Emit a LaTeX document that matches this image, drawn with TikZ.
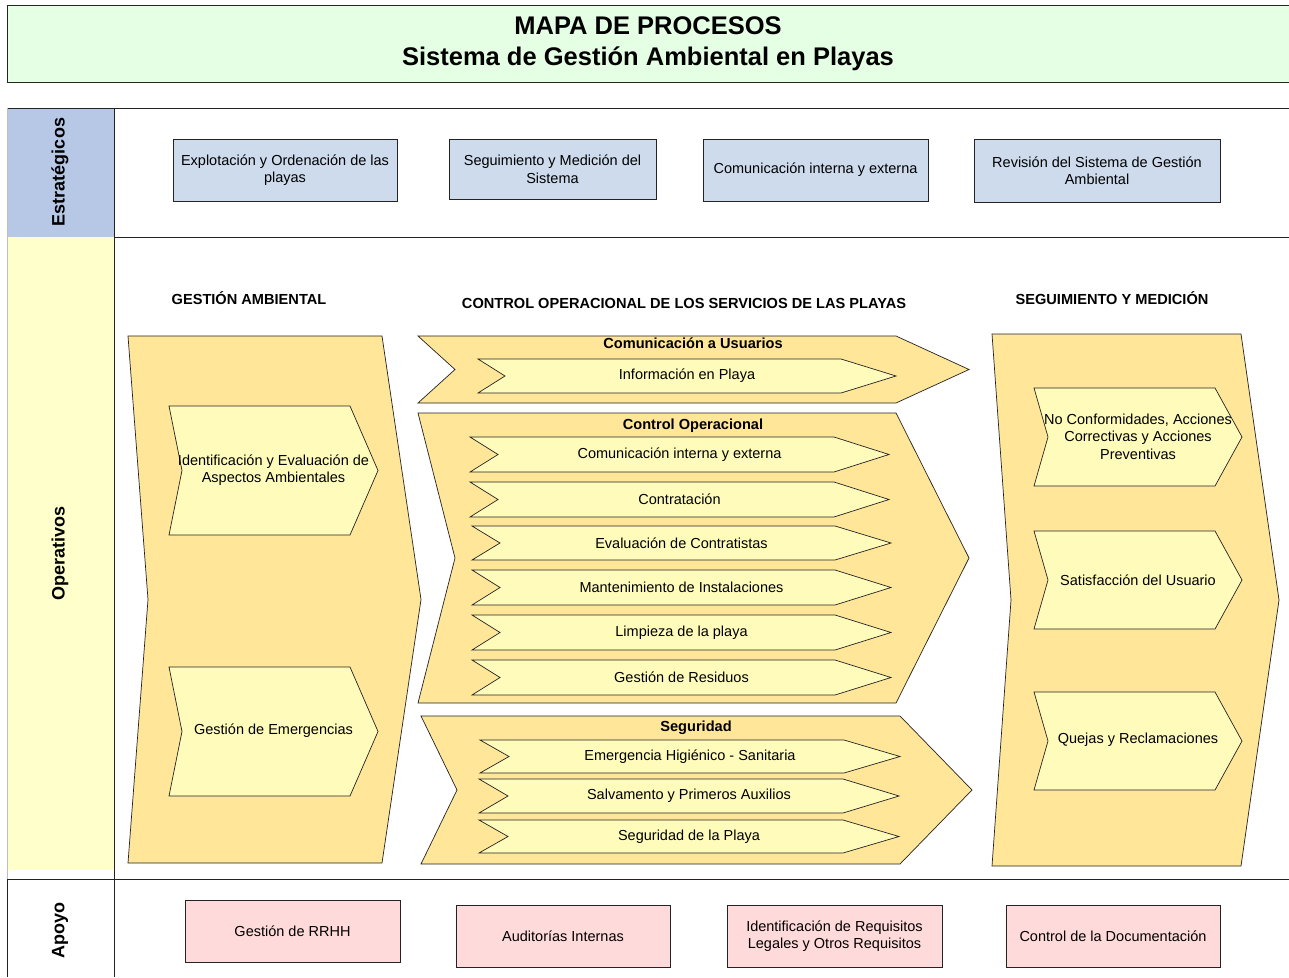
\documentclass[tikz,border=0pt]{standalone}
\usepackage{fontspec}
\setmainfont{Liberation Sans}
\definecolor{titlegreen}{RGB}{229,255,229}
\definecolor{stratlabel}{RGB}{183,199,230}
\definecolor{stratbox}{RGB}{205,219,237}
\definecolor{operlabel}{RGB}{255,255,204}
\definecolor{goldfill}{RGB}{255,230,153}
\definecolor{paleyellow}{RGB}{255,252,187}
\definecolor{pinkfill}{RGB}{255,218,218}
\definecolor{edge}{RGB}{35,35,35}
% chevron: style, x1, y1, x2, y2, notch, tip
\newcommand\chevpath[7]{\path[#1] (#2,#3) -- ({#4-#7},#3) -- (#4,{(#3+#5)/2}) -- ({#4-#7},#5) -- (#2,#5) -- ({#2+#6},{(#3+#5)/2}) -- cycle;}
\tikzset{
  lanerule/.style={draw=edge, line width=0.9pt},
  bigshape/.style={draw=edge, fill=goldfill, line width=0.7pt},
  innershape/.style={draw=edge, fill=paleyellow, line width=0.7pt},
  txt/.style={font=\fontsize{14.5}{17.5}\selectfont, align=center, inner sep=0pt},
  boldtxt/.style={font=\bfseries\fontsize{14.6}{17}\selectfont, align=center, inner sep=0pt},
  lanelabel/.style={font=\bfseries\fontsize{18}{20}\selectfont, rotate=90, inner sep=0pt},
  stratnode/.style={draw=edge, fill=stratbox, line width=0.8pt, align=center, inner sep=0pt, font=\fontsize{14.5}{17.5}\selectfont},
  apoyonode/.style={draw=edge, fill=pinkfill, line width=0.8pt, align=center, inner sep=0pt, font=\fontsize{14.5}{17.5}\selectfont},
}
\begin{document}
\begin{tikzpicture}[x=1pt,y=-1pt]
\clip (0,0) rectangle (1289,977);
\fill[white] (0,0) rectangle (1289,977);
% title
\path[draw=edge, fill=titlegreen, line width=0.9pt] (7,5) rectangle (1300,82);
\node[font=\bfseries\fontsize{25.5}{31}\selectfont, align=center, inner sep=0pt] (title) at (648,43.5) {MAPA DE PROCESOS\\Sistema de Gestión Ambiental en Playas};
% lanes
\fill[stratlabel] (7,108) rectangle (114,237);
\fill[operlabel] (7,237) rectangle (114,870);
\draw[lanerule] (7,108) -- (1300,108);
\draw[lanerule] (114,237) -- (1300,237);
\draw[lanerule] (7,879) -- (1300,879);
\draw[lanerule] (114,108) -- (114,977);
\draw[draw=black!25, line width=0.9pt] (7,108) -- (7,879);
\draw[lanerule] (7,879) -- (7,977);
\node[lanelabel] (lest) at (60,172) {Estratégicos};
\node[lanelabel] (lope) at (60,553) {Operativos};
\node[lanelabel] (lapo) at (60,930) {Apoyo};
% strategic boxes
\node[stratnode, minimum width=224, minimum height=62] (s1) at (285,170) {Explotación y Ordenación de las\\playas};
\node[stratnode, minimum width=207, minimum height=60] (s2) at (552.5,169) {Seguimiento y Medición del\\Sistema};
\node[stratnode, minimum width=225, minimum height=62] (s3) at (815.5,170) {Comunicación interna y externa};
\node[stratnode, minimum width=246, minimum height=63] (s4) at (1097,170.5) {Revisión del Sistema de Gestión\\Ambiental};
% column headers
\node[boldtxt] (hga) at (249,298) {GESTIÓN AMBIENTAL};
\node[boldtxt] (hco) at (684,303) {CONTROL OPERACIONAL DE LOS SERVICIOS DE LAS PLAYAS};
\node[boldtxt] (hsm) at (1112,298) {SEGUIMIENTO Y MEDICIÓN};
% Gestion ambiental
\chevpath{bigshape}{128}{336}{421}{863}{20}{39}
\chevpath{innershape}{169}{406}{378}{535}{13}{28}
\node[txt] (iea) at (273.5,470) {Identificación y Evaluación de\\Aspectos Ambientales};
\chevpath{innershape}{169}{667}{378}{796}{13}{28}
\node[txt] (ge) at (273.5,731) {Gestión de Emergencias};
% Comunicacion a usuarios
\chevpath{bigshape}{418}{336}{969}{403}{37}{73}
\node[boldtxt] (tcu) at (693,343) {Comunicación a Usuarios};
\chevpath{innershape}{478}{359}{896}{393}{27}{55}
\node[txt] (ip) at (687,376) {Información en Playa};
% Control operacional
\chevpath{bigshape}{418}{413}{969}{703}{37}{73}
\node[boldtxt] (tco) at (693,426) {Control Operacional};
\chevpath{innershape}{470}{437}{889}{472}{28}{55}
\node[txt] (c1) at (679.5,454.5) {Comunicación interna y externa};
\chevpath{innershape}{470}{482}{889}{517}{28}{55}
\node[txt] (c2) at (679.5,499.5) {Contratación};
\chevpath{innershape}{472}{526}{891}{560}{28}{56}
\node[txt] (c3) at (681.5,543) {Evaluación de Contratistas};
\chevpath{innershape}{472}{570}{891}{605}{28}{56}
\node[txt] (c4) at (681.5,587.5) {Mantenimiento de Instalaciones};
\chevpath{innershape}{472}{615}{891}{650}{28}{56}
\node[txt] (c5) at (681.5,632.5) {Limpieza de la playa};
\chevpath{innershape}{472}{660}{891}{695}{28}{56}
\node[txt] (c6) at (681.5,677.5) {Gestión de Residuos};
% Seguridad
\chevpath{bigshape}{421}{716}{972}{864}{36}{72}
\node[boldtxt] (tse) at (696,728) {Seguridad};
\chevpath{innershape}{480}{740}{900}{773}{29}{56}
\node[txt] (e1) at (690,756.5) {Emergencia Higiénico - Sanitaria};
\chevpath{innershape}{479}{779}{899}{813}{29}{56}
\node[txt] (e2) at (689,796) {Salvamento y Primeros Auxilios};
\chevpath{innershape}{479}{820}{899}{853}{29}{56}
\node[txt] (e3) at (689,836.5) {Seguridad de la Playa};
% Seguimiento y medicion
\chevpath{bigshape}{992}{334}{1279}{866}{19}{38}
\chevpath{innershape}{1034}{388}{1242}{486}{14}{27}
\node[txt] (m1) at (1138,436.5) {No Conformidades, Acciones\\Correctivas y Acciones\\Preventivas};
\chevpath{innershape}{1034}{531}{1242}{629}{14}{27}
\node[txt] (m2) at (1138,580) {Satisfacción del Usuario};
\chevpath{innershape}{1034}{692}{1242}{790}{14}{27}
\node[txt] (m3) at (1138,740) {Quejas y Reclamaciones};
% apoyo boxes
\node[apoyonode, minimum width=215, minimum height=62] (a1) at (292.5,931) {Gestión de RRHH};
\node[apoyonode, minimum width=214, minimum height=62] (a2) at (563,936) {Auditorías Internas};
\node[apoyonode, minimum width=215, minimum height=62] (a3) at (834.5,936) {Identificación de Requisitos\\Legales y Otros Requisitos};
\node[apoyonode, minimum width=214, minimum height=62] (a4) at (1113,936) {Control de la Documentación};
\end{tikzpicture}
\end{document}
